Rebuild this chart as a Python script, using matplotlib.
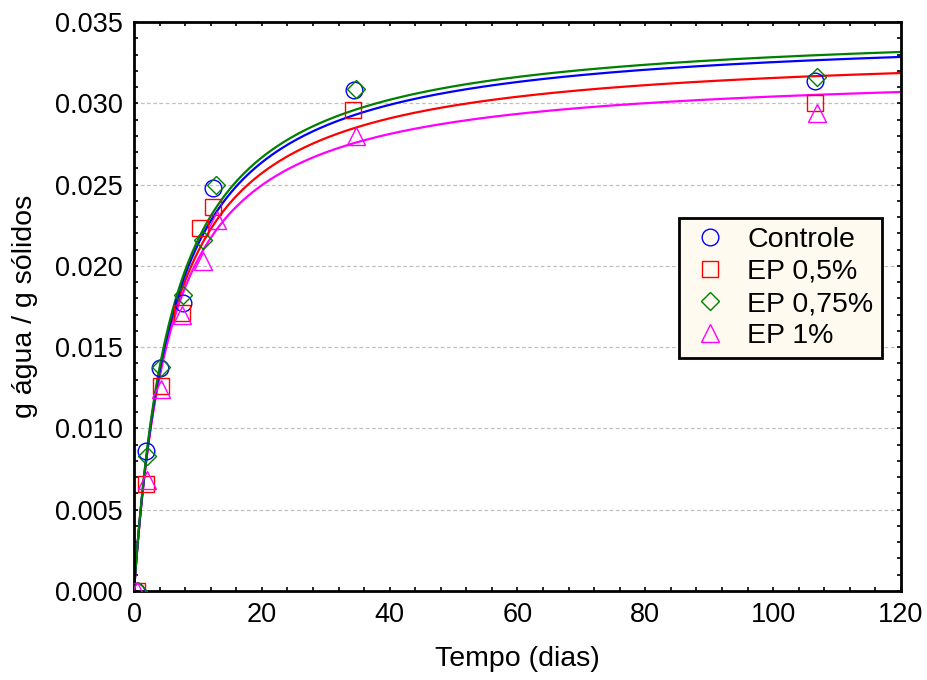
import numpy as np
import matplotlib
matplotlib.use("Agg")
import matplotlib.pyplot as plt
from matplotlib.ticker import MultipleLocator

plt.rcParams['font.family'] = ['Liberation Sans', 'DejaVu Sans']

# measured points (tempo em dias, g agua / g solidos)
series = ['Controle', 'EP 0,5%', 'EP 0,75%', 'EP 1%']
t_ctrl = [0.3, 1.9, 4.1, 7.7, 12.4, 34.4, 106.6]
y_ctrl = [0.0, 0.0086, 0.0137, 0.0177, 0.0248, 0.0308, 0.0314]
t_ep05 = [0.5, 1.9, 4.3, 7.5, 10.3, 12.3, 34.3, 106.6]
y_ep05 = [0.0, 0.0066, 0.0126, 0.0171, 0.0223, 0.0236, 0.0296, 0.0300]
t_ep075 = [0.6, 2.0, 4.2, 7.7, 10.8, 12.8, 34.7, 106.8]
y_ep075 = [0.0, 0.0083, 0.0138, 0.0182, 0.0216, 0.0250, 0.0309, 0.0316]
t_ep1 = [0.4, 2.0, 4.3, 7.5, 10.8, 13.0, 34.8, 106.8]
y_ep1 = [0.0, 0.0068, 0.0124, 0.0170, 0.0203, 0.0228, 0.0280, 0.0294]

# fitted Peleg curves  y = t / (k1 + k2 t), parameters
k1 = [179.8, 180.5, 176.1, 179.6]
k2 = [28.94, 29.88, 28.69, 31.08]

colors = ['#0000FF', '#FF0000', '#008000', '#FF00FF']
markers = ['o', 's', 'D', '^']
msizes = [12, 12, 9, 13]

times = [t_ctrl, t_ep05, t_ep075, t_ep1]
values = [y_ctrl, y_ep05, y_ep075, y_ep1]

fig = plt.figure(figsize=(9.28, 6.8), dpi=100)
ax = fig.add_axes([0.1444, 0.1309, 0.8265, 0.8367])

for i in range(len(series)):
    ax.plot(times[i], values[i], linestyle='none', marker=markers[i],
            markersize=msizes[i], markerfacecolor='none',
            markeredgecolor=colors[i], markeredgewidth=1.0,
            label=series[i], zorder=3)

tt = np.linspace(0, 120, 400)
for i in [1, 3, 0, 2]:
    ax.plot(tt, tt / (k1[i] + k2[i] * tt), color=colors[i], lw=1.6, zorder=2)

ax.set_xlim(0, 120)
ax.set_ylim(0, 0.035)
ax.xaxis.set_major_locator(MultipleLocator(20))
ax.xaxis.set_minor_locator(MultipleLocator(4))
ax.yaxis.set_major_locator(MultipleLocator(0.005))
ax.yaxis.set_minor_locator(MultipleLocator(0.001))
ax.yaxis.set_major_formatter(matplotlib.ticker.FormatStrFormatter('%.3f'))
ax.tick_params(which='both', direction='in', top=True, right=True,
               length=3, width=1.2, labelsize=19.5, pad=8)
for s in ax.spines.values():
    s.set_linewidth(2)

ax.yaxis.grid(True, which='major', linestyle=(0, (3, 2)), color='#C0C0C0', lw=0.9)
ax.set_axisbelow(True)

ax.set_xlabel('Tempo (dias)', fontsize=20.5, labelpad=13)
ax.set_ylabel('g água / g sólidos', fontsize=20.5, labelpad=12)

leg = ax.legend(loc='upper left', bbox_to_anchor=(0.7106, 0.6555), fontsize=20.5,
                frameon=True, fancybox=False, borderpad=0.3, borderaxespad=0,
                handletextpad=0.5, labelspacing=0.22, handlelength=1.6)
leg.get_frame().set_facecolor('#FFFAF0')
leg.get_frame().set_edgecolor('black')
leg.get_frame().set_linewidth(2)
leg.get_frame().set_alpha(1)

fig.savefig('out.png', dpi=100)
